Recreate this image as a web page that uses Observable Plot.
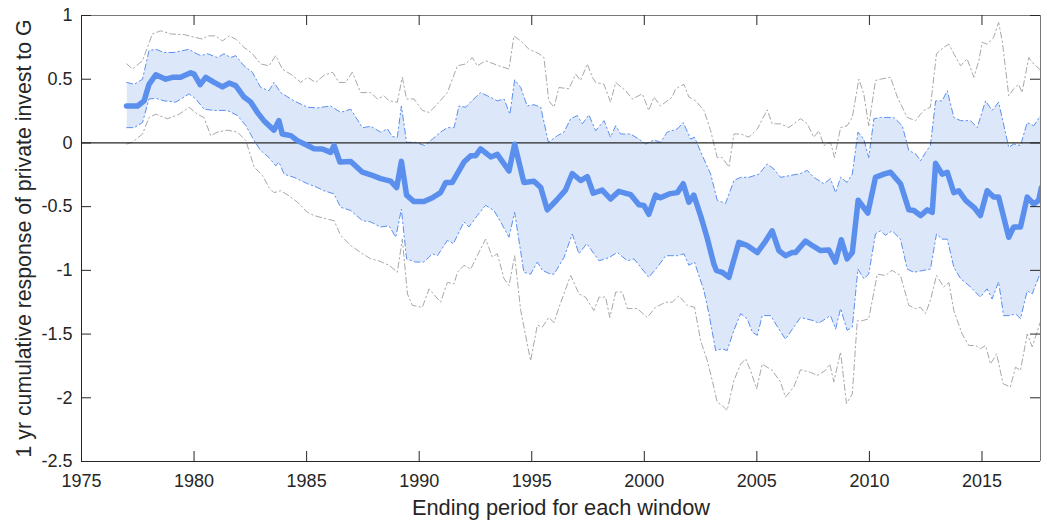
<!DOCTYPE html>
<html>
<head>
<meta charset="utf-8">
<script src="https://cdn.jsdelivr.net/npm/d3@7"></script>
<script src="https://cdn.jsdelivr.net/npm/@observablehq/plot@0.6"></script>
<style>
  html, body { margin: 0; padding: 0; background: #fff; }
</style>
</head>
<body>
<div id="chart"></div>
<script>
// ---- data ----
const xTicks = [1975, 1980, 1985, 1990, 1995, 2000, 2005, 2010, 2015];
const yTicks = [1, 0.5, 0, -0.5, -1, -1.5, -2, -2.5];
const xDomain = [1975, 2017.6];
const yDomain = [-2.5, 1];
const xLabel = "Ending period for each window";
const yLabel = "1 yr cumulative response of private invest to G";

const centerX = [1977.0,1977.49,1977.78,1978.0,1978.3,1978.74,1979.04,1979.4,1979.85,1980.0,1980.27,1980.52,1980.89,1981.26,1981.56,1981.85,1982.22,1982.52,1982.81,1983.1,1983.55,1983.77,1983.92,1984.3,1984.59,1985.04,1985.33,1985.7,1986.07,1986.22,1986.48,1986.96,1987.48,1987.85,1988.29,1988.73,1989.0,1989.21,1989.44,1989.77,1990.21,1990.59,1990.95,1991.18,1991.47,1991.99,1992.29,1992.51,1992.73,1993.18,1993.47,1993.99,1994.24,1994.65,1995.1,1995.4,1995.69,1996.1,1996.5,1996.8,1997.17,1997.47,1997.73,1998.13,1998.5,1998.87,1999.39,1999.76,1999.98,2000.2,2000.5,2000.72,2001.1,2001.47,2001.73,2001.98,2002.2,2002.5,2002.8,2003.09,2003.2,2003.46,2003.76,2004.2,2004.57,2005.02,2005.39,2005.68,2005.98,2006.27,2006.57,2006.72,2007.16,2007.46,2007.83,2008.2,2008.49,2008.75,2009.01,2009.24,2009.5,2009.93,2010.27,2010.64,2010.94,2011.38,2011.75,2011.97,2012.27,2012.57,2012.79,2012.94,2013.23,2013.46,2013.75,2013.97,2014.27,2014.64,2014.93,2015.23,2015.52,2015.74,2016.19,2016.41,2016.71,2017.01,2017.3,2017.52,2017.64];
const centerY = [0.29,0.29,0.33,0.46,0.535,0.50,0.515,0.515,0.55,0.54,0.457,0.515,0.475,0.44,0.47,0.45,0.36,0.32,0.24,0.175,0.10,0.175,0.07,0.057,0.018,-0.02,-0.045,-0.047,-0.074,-0.02,-0.15,-0.145,-0.23,-0.25,-0.28,-0.30,-0.35,-0.145,-0.41,-0.46,-0.46,-0.43,-0.39,-0.31,-0.31,-0.15,-0.10,-0.10,-0.047,-0.11,-0.09,-0.22,-0.01,-0.31,-0.30,-0.35,-0.525,-0.45,-0.37,-0.24,-0.295,-0.265,-0.395,-0.37,-0.44,-0.38,-0.405,-0.485,-0.49,-0.56,-0.41,-0.43,-0.40,-0.39,-0.32,-0.465,-0.41,-0.57,-0.75,-0.95,-1.0,-1.015,-1.055,-0.78,-0.805,-0.86,-0.77,-0.69,-0.845,-0.885,-0.86,-0.86,-0.77,-0.805,-0.845,-0.84,-0.935,-0.76,-0.91,-0.86,-0.45,-0.55,-0.27,-0.245,-0.23,-0.32,-0.525,-0.53,-0.57,-0.525,-0.545,-0.16,-0.245,-0.23,-0.39,-0.375,-0.45,-0.505,-0.57,-0.375,-0.425,-0.425,-0.74,-0.66,-0.66,-0.425,-0.48,-0.45,-0.35];

const innerUpX = [1977.01,1977.34,1977.71,1978.0,1978.3,1978.67,1979.11,1979.78,1980.0,1980.3,1980.6,1981.04,1981.33,1981.63,1981.85,1982.22,1982.59,1982.96,1983.33,1983.55,1983.85,1984.44,1985.04,1985.48,1986.07,1986.51,1986.96,1987.48,1987.85,1988.29,1988.59,1988.81,1989.03,1989.21,1989.44,1989.84,1990.24,1990.59,1990.95,1991.25,1991.55,1991.77,1992.06,1992.36,1992.73,1993.03,1993.47,1993.77,1994.03,1994.24,1994.51,1994.8,1995.1,1995.4,1995.74,1996.14,1996.43,1996.73,1997.02,1997.25,1997.54,1997.84,1998.21,1998.5,1998.73,1998.95,1999.39,1999.76,2000.06,2000.43,2000.72,2001.02,2001.47,2001.73,2002.06,2002.23,2002.58,2002.95,2003.24,2003.61,2003.98,2004.28,2004.65,2005.09,2005.46,2005.76,2006.05,2006.5,2006.94,2007.24,2007.53,2007.98,2008.27,2008.5,2008.72,2009.01,2009.24,2009.49,2009.75,2009.97,2010.2,2010.49,2011.08,2011.46,2011.75,2012.05,2012.27,2012.49,2012.71,2012.94,2013.23,2013.46,2013.75,2014.05,2014.49,2014.79,2015.16,2015.45,2015.74,2016.19,2016.41,2016.71,2017.01,2017.3,2017.64];
const innerUpY = [0.475,0.46,0.50,0.725,0.735,0.71,0.71,0.735,0.71,0.685,0.70,0.67,0.70,0.67,0.685,0.605,0.555,0.435,0.41,0.475,0.395,0.33,0.28,0.275,0.29,0.24,0.265,0.12,0.13,0.085,0.11,0.05,0.045,0.29,0.005,0.005,-0.02,0.03,0.085,0.12,0.12,0.29,0.28,0.335,0.395,0.37,0.33,0.345,0.225,0.495,0.435,0.29,0.30,0.28,0.005,0.057,0.085,0.19,0.215,0.15,0.22,0.095,0.175,0.045,0.135,0.07,0.07,0.03,-0.008,0.023,0.005,0.085,0.11,0.16,0.03,0.045,-0.10,-0.245,-0.45,-0.475,-0.295,-0.27,-0.27,-0.245,-0.165,-0.205,-0.27,-0.255,-0.24,-0.215,-0.27,-0.32,-0.28,-0.39,-0.27,-0.31,-0.245,0.085,0.03,-0.115,0.19,0.20,0.20,0.135,-0.06,-0.085,-0.14,-0.075,-0.02,0.33,0.33,0.41,0.20,0.175,0.175,0.12,0.33,0.255,0.32,-0.035,-0.008,-0.02,0.16,0.135,0.225];

const innerLoX = [1977.01,1977.34,1977.71,1978.0,1978.3,1978.67,1979.19,1979.78,1980.08,1980.44,1980.89,1981.48,1981.93,1982.3,1982.67,1982.96,1983.33,1983.63,1983.77,1984.0,1984.44,1985.04,1985.48,1985.77,1986.22,1986.51,1986.96,1987.48,1987.85,1988.29,1988.66,1988.96,1989.21,1989.44,1989.84,1990.21,1990.59,1990.81,1991.25,1991.52,1991.99,1992.21,1992.58,1992.95,1993.32,1993.62,1993.99,1994.24,1994.65,1994.95,1995.25,1995.47,1995.84,1995.99,1996.43,1996.8,1997.1,1997.44,1997.99,1998.43,1998.8,1999.25,1999.54,1999.84,2000.2,2000.58,2000.95,2001.47,2001.76,2001.98,2002.23,2002.65,2002.87,2003.17,2003.46,2003.68,2003.98,2004.28,2004.57,2004.8,2005.02,2005.24,2005.61,2005.98,2006.27,2006.64,2006.94,2007.53,2007.75,2008.27,2008.5,2008.72,2009.01,2009.24,2009.49,2009.75,2009.97,2010.27,2010.49,2010.71,2011.01,2011.38,2011.68,2011.97,2012.71,2012.98,2013.23,2013.46,2013.75,2014.05,2014.49,2014.93,2015.23,2015.45,2015.74,2015.96,2016.26,2016.49,2016.71,2017.01,2017.23,2017.64];
const innerLoY = [0.12,0.12,0.16,0.345,0.35,0.33,0.32,0.385,0.345,0.265,0.255,0.255,0.215,0.135,0.018,-0.06,-0.115,-0.18,-0.15,-0.245,-0.27,-0.32,-0.35,-0.375,-0.40,-0.505,-0.53,-0.61,-0.62,-0.66,-0.65,-0.74,-0.52,-0.91,-0.935,-0.935,-0.87,-0.885,-0.765,-0.79,-0.62,-0.66,-0.57,-0.49,-0.53,-0.62,-0.74,-0.545,-1.015,-1.03,-0.935,-1.0,-1.03,-1.03,-0.9,-0.715,-0.87,-0.79,-0.925,-0.9,-0.86,-0.925,-0.91,-0.975,-1.055,-0.975,-0.885,-0.885,-0.87,-0.96,-0.935,-1.16,-1.34,-1.63,-1.615,-1.63,-1.47,-1.34,-1.38,-1.485,-1.51,-1.355,-1.355,-1.46,-1.54,-1.445,-1.37,-1.395,-1.415,-1.355,-1.46,-1.30,-1.47,-1.445,-0.99,-1.065,-1.03,-0.715,-0.69,-0.725,-0.69,-0.755,-0.99,-1.015,-0.99,-0.715,-0.755,-0.755,-0.975,-1.065,-1.13,-1.21,-1.145,-1.225,-1.09,-1.355,-1.355,-1.34,-1.38,-1.16,-1.185,-1.0];

const outerUpX = [1977.01,1977.26,1977.71,1978.15,1978.52,1978.97,1979.56,1980.0,1980.37,1980.6,1980.96,1981.26,1981.56,1981.85,1982.22,1982.59,1982.96,1983.33,1983.63,1983.92,1984.37,1984.74,1985.04,1985.4,1985.77,1986.15,1986.44,1986.74,1987.03,1987.4,1987.85,1988.14,1988.44,1988.66,1989.03,1989.25,1989.44,1989.77,1990.14,1990.44,1990.73,1991.25,1991.7,1992.06,1992.36,1992.58,1992.95,1993.54,1993.99,1994.21,1994.51,1994.88,1995.32,1995.54,1995.76,1995.99,1996.21,1996.65,1996.95,1997.17,1997.47,1997.69,1997.84,1998.21,1998.5,1998.73,1999.17,1999.47,1999.91,2000.2,2000.43,2000.72,2001.24,2001.39,2001.76,2001.98,2002.28,2002.65,2002.95,2003.24,2003.46,2003.76,2003.98,2004.28,2004.65,2005.02,2005.46,2005.68,2006.05,2006.42,2006.94,2007.24,2007.53,2007.75,2007.98,2008.27,2008.45,2008.72,2009.01,2009.24,2009.53,2009.75,2009.97,2010.27,2010.49,2010.94,2011.24,2011.68,2012.05,2012.27,2012.42,2012.71,2012.98,2013.3,2013.53,2013.75,2014.05,2014.34,2014.64,2014.86,2015.01,2015.23,2015.52,2015.74,2015.9,2016.19,2016.41,2016.63,2016.78,2017.08,2017.3,2017.64];
const outerUpY = [0.62,0.58,0.645,0.855,0.88,0.855,0.85,0.83,0.815,0.84,0.84,0.80,0.84,0.815,0.75,0.70,0.62,0.605,0.685,0.58,0.53,0.475,0.515,0.475,0.53,0.555,0.475,0.475,0.555,0.395,0.395,0.345,0.37,0.33,0.32,0.515,0.345,0.345,0.255,0.24,0.29,0.395,0.605,0.62,0.67,0.605,0.645,0.605,0.58,0.84,0.80,0.735,0.70,0.67,0.33,0.28,0.435,0.425,0.54,0.49,0.62,0.515,0.475,0.46,0.32,0.475,0.41,0.345,0.385,0.255,0.36,0.29,0.36,0.425,0.46,0.36,0.33,0.255,0.095,-0.115,-0.115,-0.19,0.07,0.07,0.045,0.11,0.26,0.15,0.15,0.12,0.19,0.15,0.045,0.095,-0.02,0.005,-0.115,0.12,0.135,0.20,0.50,0.385,0.135,0.49,0.50,0.515,0.36,0.20,0.175,0.225,0.255,0.28,0.70,0.75,0.775,0.70,0.605,0.66,0.515,0.645,0.79,0.775,0.83,0.945,0.80,0.37,0.425,0.46,0.395,0.67,0.62,0.565];

const outerLoX = [1977.01,1977.26,1977.71,1978.0,1978.3,1978.82,1979.33,1979.78,1980.15,1980.44,1980.74,1981.04,1981.48,1981.93,1982.3,1982.67,1983.04,1983.33,1983.55,1983.85,1984.22,1984.59,1985.04,1985.33,1985.85,1986.22,1986.51,1986.96,1987.4,1987.85,1988.21,1988.66,1989.03,1989.25,1989.48,1989.7,1990.14,1990.44,1990.95,1991.25,1991.55,1991.7,1991.99,1992.29,1992.58,1992.95,1993.25,1993.47,1993.77,1993.99,1994.24,1994.51,1994.95,1995.25,1995.47,1995.76,1995.99,1996.21,1996.73,1997.1,1997.39,1997.76,1997.99,1998.28,1998.47,1998.73,1999.02,1999.25,1999.69,2000.13,2000.5,2000.95,2001.24,2001.54,2001.91,2002.23,2002.5,2002.8,2003.02,2003.24,2003.46,2003.68,2003.98,2004.28,2004.5,2004.72,2004.99,2005.24,2005.68,2006.05,2006.27,2006.64,2006.94,2007.38,2007.68,2008.05,2008.24,2008.42,2008.72,2008.98,2009.24,2009.46,2009.68,2009.97,2010.35,2010.71,2011.01,2011.38,2011.75,2012.05,2012.27,2012.49,2012.71,2012.98,2013.3,2013.53,2013.75,2014.12,2014.42,2014.72,2014.93,2015.16,2015.38,2015.65,2015.94,2016.26,2016.49,2016.71,2017.01,2017.23,2017.52,2017.64];
const outerLoY = [-0.008,0.005,0.07,0.20,0.225,0.19,0.225,0.28,0.225,0.20,0.057,0.085,0.10,0.085,0.018,-0.19,-0.255,-0.35,-0.39,-0.375,-0.415,-0.465,-0.545,-0.57,-0.595,-0.61,-0.725,-0.805,-0.86,-0.91,-0.925,-0.96,-1.015,-0.755,-1.185,-1.275,-1.29,-1.145,-1.25,-1.095,-1.105,-1.015,-0.96,-0.99,-0.885,-0.755,-0.895,-0.87,-1.065,-1.12,-0.885,-1.315,-1.71,-1.43,-1.445,-1.37,-1.41,-1.29,-1.04,-1.185,-1.21,-1.315,-1.21,-1.21,-1.37,-1.17,-1.17,-1.30,-1.30,-1.37,-1.29,-1.25,-1.25,-1.20,-1.275,-1.29,-1.55,-1.71,-1.865,-2.035,-2.06,-2.10,-1.865,-1.735,-1.695,-1.785,-1.93,-1.735,-1.785,-1.875,-1.995,-1.915,-1.78,-1.80,-1.825,-1.785,-1.735,-1.875,-1.64,-2.045,-1.97,-1.395,-1.395,-1.38,-1.03,-1.04,-1.0,-1.04,-1.275,-1.30,-1.29,-1.34,-1.235,-1.04,-1.13,-1.095,-1.315,-1.50,-1.59,-1.59,-1.615,-1.59,-1.735,-1.655,-1.89,-1.915,-1.76,-1.785,-1.50,-1.60,-1.445,-1.38];

// ---- build tables ----
const rows = (xs, ys) => xs.map((x, i) => ({x, y: ys[i]}));
const center = rows(centerX, centerY);
const innerUp = rows(innerUpX, innerUpY);
const innerLo = rows(innerLoX, innerLoY);
const outerUp = rows(outerUpX, outerUpY);
const outerLo = rows(outerLoX, outerLoY);
const band = innerUp.concat(innerLo.slice().reverse());

const W = 1041, H = 523;
const mL = 81, mR = 1, mT = 15, mB = 62;
const frameW = W - mL - mR, frameH = H - mT - mB;
const tickLen = 10;
const axisColor = "#262626";
const dashDot = "6,3,1.5,3";

const chart = Plot.plot({
  width: W,
  height: H,
  marginLeft: mL,
  marginRight: mR,
  marginTop: mT,
  marginBottom: mB,
  x: {domain: xDomain},
  y: {domain: yDomain},
  style: {fontFamily: "'Liberation Sans', Arial, Helvetica, sans-serif", fontSize: "18px", color: axisColor, background: "#fff"},
  marks: [
    Plot.line(band, {x: "x", y: "y", fill: "#dce8fa", stroke: "none", curve: "linear-closed"}),
    Plot.line(innerUp, {x: "x", y: "y", stroke: "#5b8ff0", strokeWidth: 1, strokeDasharray: dashDot}),
    Plot.line(innerLo, {x: "x", y: "y", stroke: "#5b8ff0", strokeWidth: 1, strokeDasharray: dashDot}),
    Plot.line(outerUp, {x: "x", y: "y", stroke: "#a8a8a8", strokeWidth: 1, strokeDasharray: dashDot}),
    Plot.line(outerLo, {x: "x", y: "y", stroke: "#a8a8a8", strokeWidth: 1, strokeDasharray: dashDot}),
    Plot.ruleY([0], {stroke: axisColor, strokeWidth: 1.2}),
    Plot.line(center, {x: "x", y: "y", stroke: "#5b8fee", strokeWidth: 5.5, strokeLinejoin: "round", strokeLinecap: "round"}),
    // frame
    Plot.ruleX([xDomain[0]], {stroke: axisColor, strokeWidth: 1}),
    Plot.ruleY([yDomain[0]], {stroke: axisColor, strokeWidth: 1}),
    Plot.ruleX([xDomain[1]], {stroke: "#777", strokeWidth: 1}),
    Plot.ruleY([yDomain[1]], {stroke: "#777", strokeWidth: 1}),
    // inward ticks
    Plot.ruleX(xTicks, {x: d => d, insetTop: frameH - tickLen, stroke: axisColor}),
    Plot.ruleX(xTicks, {x: d => d, insetBottom: frameH - tickLen, stroke: axisColor}),
    Plot.ruleY(yTicks, {y: d => d, insetRight: frameW - tickLen, stroke: axisColor}),
    Plot.ruleY(yTicks, {y: d => d, insetLeft: frameW - tickLen, stroke: axisColor}),
    // tick labels
    Plot.axisX({ticks: xTicks, tickSize: 0, tickPadding: 13, tickFormat: d => String(d), label: null, fontSize: 18}),
    Plot.axisY({ticks: yTicks, tickSize: 0, tickPadding: 9, tickFormat: d => String(d), label: null, fontSize: 18}),
    // axis titles
    Plot.text([xLabel], {text: d => d, frameAnchor: "bottom", textAnchor: "middle", lineAnchor: "middle", dy: 47, fontSize: 21.8, fill: axisColor}),
    Plot.text([yLabel], {text: d => d, frameAnchor: "left", textAnchor: "middle", lineAnchor: "middle", rotate: -90, dx: -57, fontSize: 21.3, fill: axisColor})
  ]
});
document.getElementById("chart").appendChild(chart);
</script>
</body>
</html>
